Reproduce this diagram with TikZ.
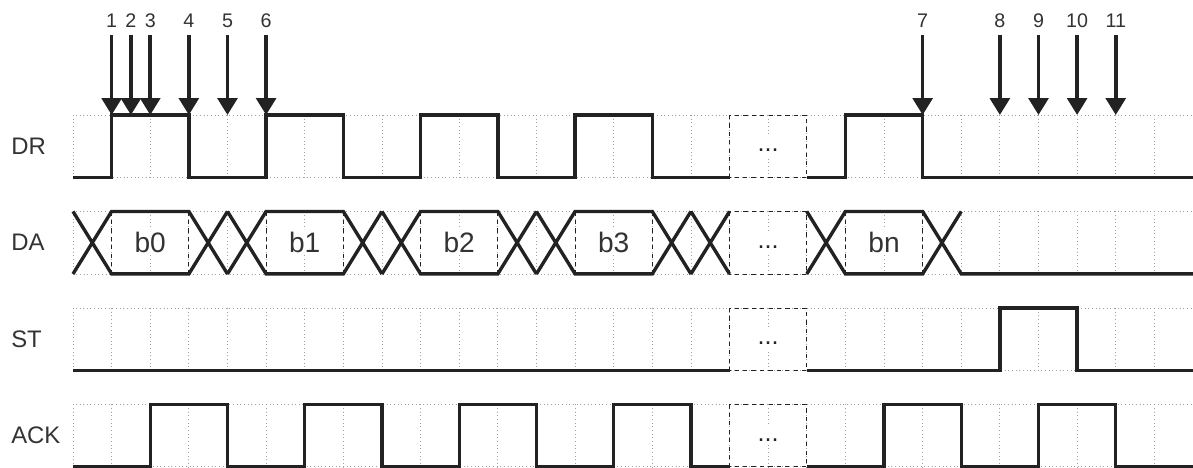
\documentclass[tikz,border=0pt]{standalone}
\usepackage{fontspec}
\setmainfont{Liberation Sans}
\usepackage{xcolor}
\usepackage{tikz}
\usetikzlibrary{positioning,arrows.meta}

\definecolor{inkgray}{HTML}{222222}
\definecolor{txtgray}{HTML}{333333}
\definecolor{gridgray}{HTML}{A0A0A0}

\begin{document}
\begin{tikzpicture}[
    x=0.9655cm, y=-0.025cm,
    gridline/.style={gridgray, line width=0.6pt, dotted},
    sig/.style={inkgray, line width=2.4pt, line join=miter},
    evarrow/.style={inkgray, line width=2.6pt, shorten <=3pt, -{Triangle[width=14pt,length=12pt]}},
    num/.style={text=txtgray, font=\fontsize{14}{16}\selectfont, inner sep=2pt},
    signame/.style={text=txtgray, font=\fontsize{17}{20}\selectfont, anchor=west, inner sep=0pt},
    data/.style={text=txtgray, font=\fontsize{20}{24}\selectfont, fill=white, inner sep=1.5pt},
    gap/.style={text=inkgray, font=\fontsize{18}{20}\selectfont, fill=white, inner sep=2pt, text height=0.9em, text depth=0.1em},
    dashbox/.style={inkgray, line width=0.6pt, dashed}
]
\useasboundingbox (-1.8903,0) rectangle (29.0005,468);

% grid, names and the cut for each line
\foreach \nm/\t in {DR/115, DA/211.5, ST/308, ACK/404.5} {
    \pgfmathsetmacro\b{\t+62.5}
    \pgfmathsetmacro\m{\t+31.25}
    \draw[gridline] (0,\t) rectangle (29,\b);
    \foreach \k in {1,...,28} \draw[gridline] (\k,\t) -- (\k,\b);
    \node[signame] (l\nm) at (-1.605,\m) {\nm};
    \draw[dashbox] (17,\t) rectangle (19,\b);
    \node[gap] (g\nm) at (18,\m) {...};
}

% DR
\draw[sig] (0,177.5) \foreach \a in {1,5,9,13} {-- (\a,177.5) -- (\a,115) -- (\a+2,115) -- (\a+2,177.5)} -- (17,177.5);
\draw[sig] (19,177.5) -- (20,177.5) -- (20,115) -- (22,115) -- (22,177.5) -- (29,177.5);

% DA
\foreach \c/\v in {1/b0,5/b1,9/b2,13/b3} {
    \draw[dashbox] (\c,211.5) -- (\c,274) (\c+2,211.5) -- (\c+2,274);
    \draw[sig] (\c-1,211.5) -- (\c,274) -- (\c+2,274) -- (\c+3,211.5)
               (\c-1,274) -- (\c,211.5) -- (\c+2,211.5) -- (\c+3,274);
    \node[data] (d\v) at (\c+1,242.75) {\v};
}
\draw[sig] (16,211.5) -- (17,274) (16,274) -- (17,211.5);
\draw[dashbox] (20,211.5) -- (20,274) (22,211.5) -- (22,274);
\draw[sig] (19,211.5) -- (20,274) -- (22,274) -- (23,211.5)
           (19,274) -- (20,211.5) -- (22,211.5) -- (23,274) -- (29,274);
\node[data] (dbn) at (21,242.75) {bn};

% ST
\draw[sig] (0,370.5) -- (17,370.5);
\draw[sig] (19,370.5) -- (24,370.5) -- (24,308) -- (26,308) -- (26,370.5) -- (29,370.5);

% ACK
\draw[sig] (0,467) \foreach \a in {2,6,10,14} {-- (\a,467) -- (\a,404.5) -- (\a+2,404.5) -- (\a+2,467)} -- (17,467);
\draw[sig] (19,467) \foreach \a in {21,25} {-- (\a,467) -- (\a,404.5) -- (\a+2,404.5) -- (\a+2,467)} -- (29,467);

% numbered instants
\foreach \n/\k in {1/1, 2/1.5, 3/2, 4/3, 5/4, 6/5, 7/22, 8/24, 9/25, 10/26, 11/27} {
    \node[num] (n\n) at (\k,21) {\n};
    \coordinate (e\n) at (\k,115);
    \draw[evarrow] (n\n) -- (e\n);
}
\end{tikzpicture}
\end{document}
